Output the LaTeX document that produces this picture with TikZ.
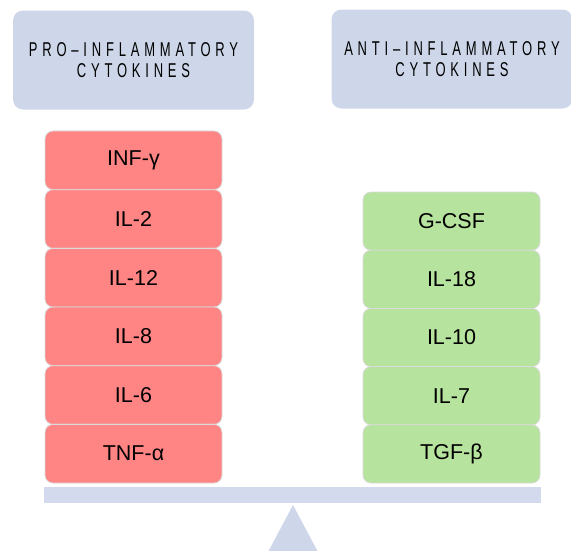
\documentclass[tikz,border=0pt]{standalone}
\usepackage{fontspec}
\setmainfont{Liberation Sans}
\newfontfamily\headfont[FakeStretch=0.65,LetterSpace=24]{Liberation Sans}
\definecolor{hdr}{HTML}{CED7EA}
\definecolor{beamc}{HTML}{D4DAEE}
\definecolor{redc}{HTML}{FF8585}
\definecolor{greenc}{HTML}{B6E39D}
\definecolor{edgec}{HTML}{DADADA}
\begin{document}
\begin{tikzpicture}[x=1pt,y=-1pt,
  hdrbox/.style={fill=hdr, draw=none, rounded corners=10pt, minimum width=241pt, minimum height=99pt, inner sep=0pt, align=center, font=\headfont\fontsize{20}{21}\selectfont},
  cyto/.style={draw=edgec, line width=0.8pt, rounded corners=8pt, minimum width=177pt, inner sep=0pt, font=\fontsize{21.5}{24}\selectfont},
  redbox/.style={cyto, fill=redc, minimum height=58.67pt},
  greenbox/.style={cyto, fill=greenc, minimum height=58.2pt}]
\useasboundingbox (0,0) rectangle (571,550);
\clip (0,0) rectangle (571,550);
\node[hdrbox] (pro) at (133.5,60) {PRO–INFLAMMATORY\\CYTOKINES};
\node[hdrbox] (anti) at (452,59) {ANTI–INFLAMMATORY\\CYTOKINES};
\node[redbox] (inf) at (133.5,160.3) {INF-γ};
\node[redbox] (il2) at (133.5,219) {IL-2};
\node[redbox] (il12) at (133.5,277.7) {IL-12};
\node[redbox] (il8) at (133.5,336.3) {IL-8};
\node[redbox] (il6) at (133.5,395) {IL-6};
\node[redbox] (tnf) at (133.5,453.7) {TNF-α};
\node[greenbox] (gcsf) at (451.5,221.1) {G-CSF};
\node[greenbox] (il18) at (451.5,279.3) {IL-18};
\node[greenbox] (il10) at (451.5,337.5) {IL-10};
\node[greenbox] (il7) at (451.5,395.7) {IL-7};
\node[greenbox] (tgf) at (451.5,453.9) {TGF-β};
\fill[beamc] (44,487) rectangle (541,503);
\fill[hdr] (268,552) -- (293,505) -- (318,552) -- cycle;
\end{tikzpicture}
\end{document}
